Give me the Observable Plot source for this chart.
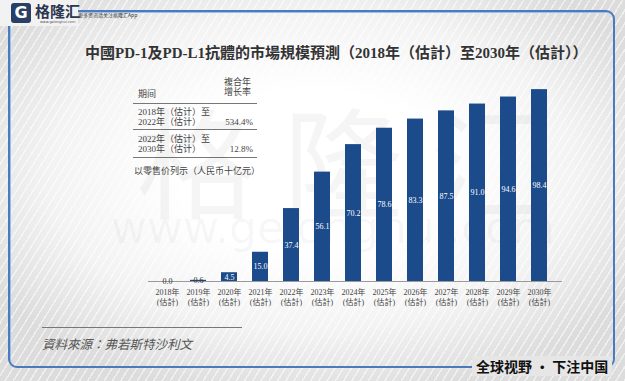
<!DOCTYPE html>
<html><head><meta charset="utf-8">
<script src="https://cdn.jsdelivr.net/npm/d3@7"></script>
<script src="https://cdn.jsdelivr.net/npm/@observablehq/plot@0.6"></script>
<style>
html,body{margin:0;padding:0;}
#page{position:relative;width:625px;height:381px;overflow:hidden;
 background:
  repeating-linear-gradient(-58deg, rgba(255,255,255,0.55) 0 1.5px, rgba(255,255,255,0) 1.5px 7px),
  radial-gradient(ellipse 60% 60% at 50% 45%, #ffffff 35%, #f3f3f3 70%, #dcdcdc 100%);
 font-family:"Liberation Serif","DejaVu Serif","Noto Sans CJK TC",serif;}
.abs{position:absolute;white-space:nowrap;}
#frame{position:absolute;left:8px;top:10px;width:607px;height:358px;border:2px solid #4b7bbd;border-radius:9px;box-sizing:border-box;box-shadow:inset 1px 1px 0 #9ec0e8;}
#logoBox{left:0;top:0;width:78px;height:26px;background:#f2f2f2;}
#title{left:85px;width:495px;top:41px;text-align:center;font-size:15px;font-weight:bold;color:#333;font-family:"Liberation Serif","Noto Sans CJK TC",serif;}
.tbl{font-size:9px;color:#444;font-family:"Liberation Serif","Noto Sans CJK SC",serif;}
.hl{position:absolute;left:133px;width:124px;height:0;border-top:1px solid #777;}
#plot{position:absolute;left:0;top:0;}
</style></head>
<body>
<div id="page">
 <div id="frame"></div>
 <div class="abs" id="logoBox"></div>
 <div class="abs" style="left:11px;top:3px;width:20px;height:20px;background:#2a3f66;border-radius:3px;color:#fff;font:bold 16px 'DejaVu Sans';text-align:center;line-height:20px;">G</div>
 <div class="abs" style="left:35px;top:2px;font:bold 15px/17px 'Noto Sans CJK SC';color:#2a3550;">格隆汇</div>
 <div class="abs" style="left:40px;top:20px;font:3.5px/4px 'DejaVu Sans';color:#555;">www.gelonghui.com</div>
 <div class="abs" style="left:78px;top:12px;font:5px/6px 'Noto Sans CJK SC';color:#333;">更多资讯请关注格隆汇App</div>
 <div class="abs" id="title"></div>

 <div class="abs tbl" style="left:138px;top:87px;">期间</div>
 <div class="abs tbl" style="left:224px;top:77px;line-height:10px;">複合年<br>增长率</div>
 <div class="hl" style="top:103px;"></div>
 <div class="abs tbl" id="r1" style="left:138px;top:107px;line-height:10px;"></div>
 <div class="abs tbl" id="c1" style="left:200px;width:53px;text-align:right;top:117px;"></div>
 <div class="hl" style="top:129px;"></div>
 <div class="abs tbl" id="r2" style="left:138px;top:134px;line-height:10px;"></div>
 <div class="abs tbl" id="c2" style="left:200px;width:53px;text-align:right;top:144px;"></div>
 <div class="hl" style="top:157px;"></div>
 <div class="abs tbl" id="unit" style="left:134px;top:164px;"></div>

 <div class="abs" style="left:42px;top:327px;width:200px;border-top:1px solid #777;"></div>
 <div class="abs" id="source" style="left:42px;top:334px;font-size:12.5px;font-style:italic;color:#555;font-family:'Liberation Serif','Noto Sans CJK TC',serif;"></div>
 <div class="abs" style="left:472px;top:356px;padding:0 4px;background:#e6e6e6;font:bold 14px/20px 'Noto Sans CJK SC';color:#111;">全球视野 · 下注中国</div>
 <div id="plot"></div>
</div>
<script>
const years = ["2018","2019","2020","2021","2022","2023","2024","2025","2026","2027","2028","2029","2030"];
const values = [0.0, 0.6, 4.5, 15.0, 37.4, 56.1, 70.2, 78.6, 83.3, 87.5, 91.0, 94.6, 98.4];
const periods = ["2018年（估计）至\n2022年（估计）", "2022年（估计）至\n2030年（估计）"];
const cagrs = ["534.4%", "12.8%"];
const titleText = "中國PD-1及PD-L1抗體的市場規模預測（2018年（估計）至2030年（估計））";
const unitText = "以零售价列示（人民币十亿元）";
const sourceText = "資料來源：弗若斯特沙利文";

document.getElementById("title").textContent = titleText;
document.getElementById("r1").innerHTML = periods[0].replace("\n","<br>");
document.getElementById("r2").innerHTML = periods[1].replace("\n","<br>");
document.getElementById("c1").textContent = cagrs[0];
document.getElementById("c2").textContent = cagrs[1];
document.getElementById("unit").textContent = unitText;
document.getElementById("source").textContent = sourceText;

const data = years.map((y, i) => ({year: y, value: values[i]}));
const serif = "'Liberation Serif','DejaVu Serif','Noto Sans CJK TC',serif";

const chart = Plot.plot({
  width: 625, height: 381,
  marginLeft: 148, marginRight: 68, marginTop: 86, marginBottom: 100,
  style: {background: "transparent", fontFamily: serif, overflow: "visible"},
  x: {domain: years, paddingInner: 0.49, paddingOuter: 0.245},
  y: {domain: [0, 100], axis: null},
  marks: [
    Plot.text(["格 隆 汇"], {frameAnchor: "middle", dx: -10, dy: -12, fontSize: 120, fill: "#000", fillOpacity: 0.04, fontFamily: "Noto Sans CJK SC"}),
    Plot.text(["www.gelonghui.com"], {frameAnchor: "middle", dx: -20, dy: 45, fontSize: 44, fill: "#000", fillOpacity: 0.04, fontFamily: "DejaVu Sans"}),
    Plot.ruleY([0], {stroke: "#9a9a9a", strokeWidth: 1, insetRight: -5}),
    Plot.barY(data, {x: "year", y: "value", fill: "#1b4b8b"}),
    Plot.text(data, {x: "year", y: d => d.value / 2, text: d => d.value.toFixed(1),
      fill: d => d.value < 1 ? "#333" : "#fff", fontSize: 8, fontFamily: serif}),
    Plot.axisX({tickSize: 0, tickPadding: 6, fontSize: 8, lineHeight: 1.25, fill: "#444",
      tickFormat: d => d + "年\n(估計)", label: null})
  ]
});
document.getElementById("plot").appendChild(chart);
</script>
</body></html>
